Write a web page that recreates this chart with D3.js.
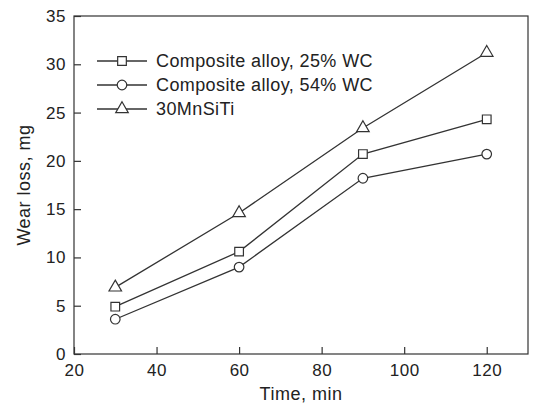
<!DOCTYPE html>
<html>
<head>
<meta charset="utf-8">
<style>
body { margin: 0; background: #fff; }
text { font-family: "Liberation Sans", Arial, sans-serif; fill: #222; }
</style>
</head>
<body>
<svg width="533" height="405"></svg>
<script src="https://d3js.org/d3.v7.min.js"></script>
<script>

var times = [30, 60, 90, 120];
var wc25 = [4.9, 10.6, 20.7, 24.3];
var wc54 = [3.6, 9.0, 18.2, 20.7];
var mnsiti = [6.9, 14.6, 23.4, 31.2];
var seriesNames = ["Composite alloy, 25% WC", "Composite alloy, 54% WC", "30MnSiTi"];
var xTicks = [20, 40, 60, 80, 100, 120];
var yTicks = [0, 5, 10, 15, 20, 25, 30, 35];

var svg = d3.select("svg"),
    margin = {top: 16, right: 5, bottom: 51, left: 74},
    width = +svg.attr("width") - margin.left - margin.right,
    height = +svg.attr("height") - margin.top - margin.bottom;

var g = svg.append("g").attr("transform", "translate(" + margin.left + "," + margin.top + ")");

var x = d3.scaleLinear().domain([20, 130]).range([0, width]);
var y = d3.scaleLinear().domain([0, 35]).range([height, 0]);

var ink = "#333";

// frame
g.append("rect")
    .attr("width", width).attr("height", height)
    .attr("fill", "none").attr("stroke", ink).attr("stroke-width", 1.2);

var xAxis = g.append("g")
    .attr("transform", "translate(0," + height + ")")
    .call(d3.axisBottom(x).tickValues(xTicks).tickSizeInner(-7).tickSizeOuter(0).tickPadding(10));
var yAxis = g.append("g")
    .call(d3.axisLeft(y).tickValues(yTicks).tickSizeInner(-7).tickSizeOuter(0).tickPadding(8));

[xAxis, yAxis].forEach(function(a) {
  a.select(".domain").remove();
  a.selectAll("line").attr("stroke", ink).attr("stroke-width", 1.2);
  a.selectAll("text")
      .style("font-size", "17px")
      .style("letter-spacing", "0.5px")
      .style("font-family", "'Liberation Sans', Arial, sans-serif")
      .attr("fill", "#222");
});

svg.append("text")
    .attr("x", margin.left + x(75))
    .attr("y", 400)
    .attr("text-anchor", "middle")
    .style("font-size", "18px")
    .style("letter-spacing", "0.5px")
    .text("Time, min");

svg.append("text")
    .attr("transform", "translate(30," + (margin.top + y(17.5)) + ") rotate(-90)")
    .attr("text-anchor", "middle")
    .style("font-size", "18px")
    .style("letter-spacing", "0.5px")
    .text("Wear loss, mg");

var series = [wc25, wc54, mnsiti];
var shapes = [d3.symbolSquare, d3.symbolCircle, d3.symbolTriangle];
var sizes = [75, 72, 68];

var line = d3.line()
    .x(function(d, i) { return x(times[i]); })
    .y(function(d) { return y(d); });

series.forEach(function(s, k) {
  g.append("path")
      .datum(s)
      .attr("d", line)
      .attr("fill", "none")
      .attr("stroke", ink)
      .attr("stroke-width", 1.3);
  g.selectAll(".m" + k)
    .data(s)
    .enter().append("path")
      .attr("class", "m" + k)
      .attr("transform", function(d, i) { return "translate(" + x(times[i]) + "," + y(d) + ")"; })
      .attr("d", d3.symbol().type(shapes[k]).size(sizes[k]))
      .attr("fill", "#fff")
      .attr("stroke", ink)
      .attr("stroke-width", 1.2);
});

// legend
var legend = svg.append("g");
seriesNames.forEach(function(name, k) {
  var ly = 61 + k * 24;
  legend.append("line")
      .attr("x1", 97).attr("x2", 147).attr("y1", ly).attr("y2", ly)
      .attr("stroke", ink).attr("stroke-width", 1.3);
  legend.append("path")
      .attr("transform", "translate(122," + ly + ")")
      .attr("d", d3.symbol().type(shapes[k]).size(sizes[k]))
      .attr("fill", "#fff").attr("stroke", ink).attr("stroke-width", 1.2);
  legend.append("text")
      .attr("x", 156).attr("y", ly + 6)
      .style("font-size", "18px")
      .style("letter-spacing", "0.4px")
      .text(name);
});

</script>
</body>
</html>
